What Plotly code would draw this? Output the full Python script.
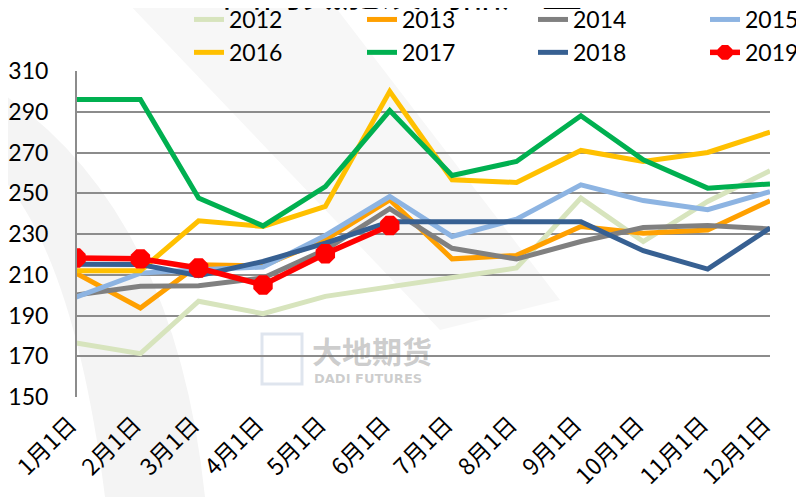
import plotly.graph_objects as go

months = ["2019-%02d-01" % m for m in range(1, 13)]
tick_labels = ["%d月1日" % m for m in range(1, 13)]

s2012 = [176.5, 171.3, 197.0, 190.9, 199.4, 204.0, 209.0, 213.3, 247.6, 226.3, 246.0, 261.0]
s2013 = [210.8, 193.7, 214.9, 214.4, 227.2, 246.8, 217.8, 219.5, 233.7, 230.4, 232.0, 246.3]
s2014 = [200.0, 204.3, 204.6, 208.4, 222.3, 242.4, 223.0, 217.7, 226.3, 233.2, 234.2, 232.5]
s2015 = [199.0, 210.8, 212.4, 213.8, 229.3, 248.4, 228.8, 237.3, 254.1, 246.4, 241.9, 250.8]
s2016 = [212.0, 212.0, 236.5, 233.7, 243.5, 300.0, 256.6, 255.3, 271.0, 265.6, 270.0, 280.0]
s2017 = [296.0, 296.0, 247.6, 234.0, 253.3, 290.6, 258.7, 265.6, 288.0, 266.4, 252.5, 254.6]
s2018 = [215.2, 215.0, 209.5, 216.5, 225.5, 236.0, 236.0, 235.8, 236.0, 221.8, 212.8, 232.9]
s2019 = [218.2, 217.8, 213.3, 205.0, 220.3, 234.2]

series = [
    ("2012", s2012, "#d7e4bd", "legend"),
    ("2013", s2013, "#ffa000", "legend2"),
    ("2014", s2014, "#808080", "legend3"),
    ("2015", s2015, "#8db4e2", "legend4"),
    ("2016", s2016, "#ffc000", "legend"),
    ("2017", s2017, "#00b050", "legend2"),
    ("2018", s2018, "#376092", "legend3"),
]

fig = go.Figure()
for name, vals, col, lg in series:
    fig.add_trace(go.Scatter(x=months[:len(vals)], y=vals, name=name, mode="lines",
                             legend=lg, legendgroup=name,
                             line=dict(color=col, width=5)))
fig.add_trace(go.Scatter(x=months[:len(s2019)], y=s2019, name="2019", mode="lines+markers",
                         legend="legend4", legendgroup="2019",
                         line=dict(color="#ff0000", width=5.5),
                         marker=dict(symbol="octagon", size=21, color="#ff0000")))

font_main = "Lato, Noto Sans CJK SC, sans-serif"

# page offset (browser body margin)
OFF = 8
FW, FH = 804 - OFF, 497 - OFF
L, T, W, H = 76, 71, 694, 326   # plot area in page pixels

def px(x):
    return (x - L) / W
def py(y):
    return (T + H - y) / H

def leg(xpix):
    return dict(orientation="v", x=px(xpix), y=py(-2), xanchor="left", yanchor="top",
                font=dict(size=23, family=font_main, color="black"),
                bgcolor="rgba(0,0,0,0)", tracegroupgap=0)

band1 = "M {},{} Q {},{} {},{} L {},{} Q {},{} {},{} Z".format(
    px(0), py(92), px(175), py(210), px(205), py(497),
    px(105), py(497), px(75), py(260), px(0), py(175))
band2 = "M {},{} L {},{} L {},{} L {},{} Z".format(
    px(125), py(0), px(330), py(0), px(560), py(300), px(440), py(330))

fig.update_layout(
    width=FW, height=FH,
    margin=dict(l=L - OFF, r=FW - (L - OFF) - W, t=T - OFF, b=FH - (T - OFF) - H, autoexpand=False),
    paper_bgcolor="white", plot_bgcolor="rgba(0,0,0,0)",
    font=dict(family=font_main, size=22, color="black"),
    showlegend=True,
    legend=leg(189),
    legend2=leg(362),
    legend3=leg(533),
    legend4=leg(705),
    xaxis=dict(type="date", range=[months[0], months[-1]], tickvals=months, ticktext=tick_labels,
               tickangle=-45, showgrid=False, showline=False, zeroline=False, automargin=False,
               ticks="outside", ticklen=4, tickcolor="rgba(0,0,0,0)", ticklabelshift=-6,
               tickfont=dict(size=23, family="Noto Sans CJK SC, sans-serif", color="black")),
    yaxis=dict(range=[150, 310], tick0=150, dtick=20, showgrid=True, gridcolor="#8c8c8c", gridwidth=2,
               zeroline=False, showline=False, automargin=False,
               ticks="outside", ticklen=22, tickcolor="rgba(0,0,0,0)",
               tickfont=dict(size=23, family=font_main, color="black")),
    shapes=[
        dict(type="path", xref="paper", yref="paper", path=band1, fillcolor="#f4f4f4",
             line=dict(width=0), layer="below"),
        dict(type="path", xref="paper", yref="paper", path=band2, fillcolor="#f7f7f7",
             line=dict(width=0), layer="below"),
        dict(type="rect", xref="paper", yref="paper", x0=px(262), x1=px(302), y0=py(384), y1=py(334),
             fillcolor="rgba(0,0,0,0)", line=dict(color="rgba(150,170,200,0.3)", width=3), layer="below"),
        dict(type="line", xref="paper", yref="paper", x0=0, x1=0, y0=0, y1=1,
             line=dict(color="#8c8c8c", width=2)),
    ],
    annotations=[
        dict(text="国内氮肥及制品产量", xref="paper", yref="paper", x=px(402), y=py(20),
             xanchor="center", yanchor="bottom", showarrow=False,
             font=dict(size=40, family="Noto Sans CJK SC", color="black")),
        dict(text="<b>大地期货</b>", xref="paper", yref="paper", x=px(310), y=py(350),
             xanchor="left", yanchor="middle", showarrow=False,
             font=dict(size=30, family="Noto Sans CJK SC", color="rgba(110,110,110,0.35)")),
        dict(text="<b>DADI FUTURES</b>", xref="paper", yref="paper", x=px(312), y=py(378),
             xanchor="left", yanchor="middle", showarrow=False,
             font=dict(size=13, family="DejaVu Sans", color="rgba(110,110,110,0.35)")),
    ],
)

fig.write_html("out.html")
